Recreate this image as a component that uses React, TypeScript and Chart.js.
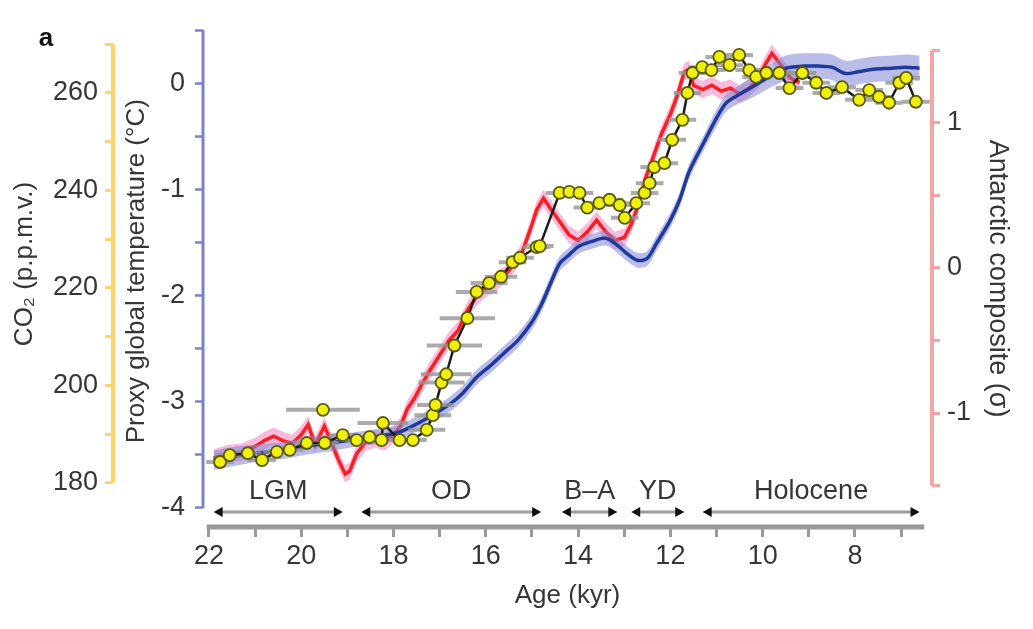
import { useEffect, useRef } from "react";
import { Chart, registerables } from "chart.js";

Chart.register(...registerables);

// ---------- Data ----------
// Proxy global temperature stack (°C)
const TEMP_AGE = [21.9, 21.4, 20.9, 20.4, 19.9, 19.4, 18.9, 18.4, 17.9, 17.5, 17.1, 16.8, 16.5, 16.2, 15.9, 15.6, 15.3, 15.0, 14.8, 14.6, 14.4, 14.2, 14.0, 13.7, 13.4, 13.2, 12.9, 12.7, 12.5, 12.3, 12.0, 11.8, 11.6, 11.3, 11.0, 10.8, 10.6, 10.4, 10.2, 9.8, 9.5, 9.1, 8.8, 8.5, 8.2, 7.9, 7.6, 7.2, 6.9, 6.6];
const TEMP_VAL = [-3.55, -3.51, -3.48, -3.46, -3.42, -3.39, -3.36, -3.33, -3.29, -3.21, -3.11, -3.03, -2.92, -2.77, -2.66, -2.54, -2.42, -2.25, -2.09, -1.89, -1.70, -1.62, -1.54, -1.49, -1.46, -1.51, -1.62, -1.67, -1.65, -1.51, -1.29, -1.10, -0.84, -0.58, -0.33, -0.19, -0.13, -0.08, -0.03, 0.075, 0.14, 0.16, 0.16, 0.15, 0.09, 0.11, 0.13, 0.14, 0.15, 0.14];
const TEMP_ERR = [0.09, 0.09, 0.08, 0.08, 0.08, 0.08, 0.07, 0.07, 0.07, 0.07, 0.07, 0.07, 0.07, 0.07, 0.07, 0.07, 0.07, 0.07, 0.07, 0.07, 0.07, 0.07, 0.07, 0.07, 0.07, 0.07, 0.07, 0.07, 0.07, 0.07, 0.07, 0.07, 0.07, 0.07, 0.08, 0.08, 0.08, 0.09, 0.1, 0.11, 0.12, 0.12, 0.12, 0.12, 0.12, 0.12, 0.12, 0.12, 0.12, 0.12];

// Antarctic temperature composite (σ)
const ANT_AGE = [21.9, 21.6, 21.3, 21.0, 20.8, 20.6, 20.4, 20.2, 20.0, 19.85, 19.7, 19.5, 19.35, 19.2, 19.05, 18.95, 18.8, 18.6, 18.4, 18.2, 18.0, 17.85, 17.7, 17.55, 17.4, 17.2, 17.0, 16.8, 16.6, 16.4, 16.2, 16.0, 15.8, 15.6, 15.4, 15.2, 15.0, 14.9, 14.75, 14.6, 14.4, 14.2, 14.0, 13.8, 13.6, 13.4, 13.2, 13.0, 12.85, 12.7, 12.55, 12.4, 12.2, 12.0, 11.85, 11.7, 11.6, 11.5, 11.3, 11.1, 10.9, 10.7, 10.5, 10.3, 10.1, 9.95, 9.8, 9.6, 9.4, 9.2];
const ANT_VAL = [-1.31, -1.28, -1.27, -1.23, -1.19, -1.16, -1.19, -1.21, -1.15, -1.08, -1.22, -1.09, -1.20, -1.32, -1.42, -1.40, -1.28, -1.20, -1.18, -1.20, -1.15, -1.09, -0.97, -0.90, -0.81, -0.70, -0.60, -0.50, -0.43, -0.29, -0.20, -0.14, -0.10, -0.05, 0.02, 0.12, 0.30, 0.40, 0.48, 0.41, 0.32, 0.23, 0.19, 0.25, 0.33, 0.25, 0.19, 0.21, 0.30, 0.43, 0.61, 0.74, 0.92, 1.06, 1.19, 1.35, 1.37, 1.26, 1.23, 1.26, 1.22, 1.24, 1.20, 1.24, 1.30, 1.40, 1.48, 1.40, 1.31, 1.28];
const ANT_ERR = 0.06;

// CO2, EPICA Dome C (p.p.m.v.) with age uncertainty (kyr)
const CO2_AGE = [21.76, 21.55, 21.16, 20.85, 20.53, 20.25, 19.88, 19.49, 19.10, 18.80, 18.52, 18.26, 18.23, 17.87, 17.58, 17.28, 17.15, 17.09, 16.96, 16.86, 16.68, 16.40, 16.20, 15.93, 15.67, 15.42, 15.26, 14.90, 14.83, 14.40, 14.19, 13.97, 13.80, 13.54, 13.32, 13.10, 12.99, 12.74, 12.56, 12.45, 12.35, 12.13, 11.96, 11.74, 11.63, 11.52, 11.31, 11.11, 10.94, 10.72, 10.51, 10.29, 10.14, 9.92, 9.64, 9.42, 9.14, 8.84, 8.62, 8.28, 7.91, 7.69, 7.48, 7.26, 7.04, 6.89, 6.68];
const CO2_PPM = [184.3, 185.7, 186.1, 184.7, 186.4, 186.8, 188.2, 188.2, 189.8, 188.8, 189.4, 188.8, 192.3, 188.8, 188.8, 190.9, 193.9, 196.0, 200.6, 202.3, 208.2, 213.8, 219.2, 221.0, 222.3, 225.3, 226.2, 228.4, 228.6, 239.5, 239.7, 239.5, 236.5, 237.4, 238.1, 237.0, 234.4, 237.4, 239.5, 241.5, 244.8, 245.6, 250.4, 254.5, 260.0, 264.1, 265.3, 264.7, 267.4, 265.7, 267.8, 264.7, 263.3, 264.1, 264.1, 261.0, 264.1, 262.1, 260.0, 261.2, 258.6, 260.6, 259.2, 258.0, 262.1, 263.1, 258.2];
const CO2_AGE_ERR = [0.3, 0.3, 0.3, 0.3, 0.3, 0.3, 0.3, 0.3, 0.3, 0.3, 0.3, 0.3, 0.55, 0.3, 0.3, 0.4, 0.4, 0.4, 0.5, 0.55, 0.6, 0.6, 0.45, 0.4, 0.35, 0.3, 0.3, 0.3, 0.3, 0.3, 0.3, 0.3, 0.3, 0.3, 0.3, 0.3, 0.3, 0.3, 0.3, 0.3, 0.3, 0.3, 0.3, 0.3, 0.3, 0.3, 0.3, 0.3, 0.3, 0.3, 0.3, 0.3, 0.3, 0.3, 0.3, 0.3, 0.3, 0.3, 0.3, 0.3, 0.3, 0.3, 0.3, 0.3, 0.3, 0.3, 0.3];
const CO2_OUT_AGE = [19.53];
const CO2_OUT_PPM = [195.0];
const CO2_OUT_ERR = [0.8];

// Climate periods (kyr)
const PERIOD_LABELS = ["LGM", "OD", "B\u2013A", "YD", "Holocene"];
const PERIOD_START = [21.9, 18.7, 14.35, 12.85, 11.3];
const PERIOD_END = [19.1, 14.8, 13.15, 11.7, 6.6];

// Axes
const X_TICKS = [22, 21, 20, 19, 18, 17, 16, 15, 14, 13, 12, 11, 10, 9, 8, 7];
const X_LINE = [22.05, 6.5];
const CO2_TICKS = [180, 190, 200, 210, 220, 230, 240, 250, 260, 270];
const TEMP_TICKS = [-4, -3.5, -3, -2.5, -2, -1.5, -1, -0.5, 0, 0.5];
const ANT_TICKS = [-1.5, -1, -0.5, 0, 0.5, 1, 1.5];

// ---------- Helpers ----------
const FONT = "'Liberation Sans', Arial, Helvetica, sans-serif";
const TXT = "#363636";
const YELLOW_AX = "#FFD46E";
const BLUE_AX = "#7C82C8";
const RED_AX = "#F6A3A3";
const TICK_SIZE = 27;
const TITLE_SIZE = 26;

const pts = (xs: number[], ys: number[]) => xs.map((x, i) => ({ x, y: ys[i] }));

const errBars = (ages: number[], vals: number[], errs: number[]) => {
  const out: { x: number; y: number | null }[] = [];
  ages.forEach((a, i) => {
    out.push({ x: a + errs[i], y: vals[i] }, { x: a - errs[i], y: vals[i] }, { x: a, y: null });
  });
  return out;
};

const decorPlugin = {
  id: "decor",
  afterDraw(chart: any) {
    const { ctx, chartArea, scales } = chart;
    const xs = scales.x;
    const yc = scales.yCO2;
    const yt = scales.yTemp;
    const ya = scales.yAnt;
    ctx.save();
    ctx.lineCap = "butt";
    const line = (x1: number, y1: number, x2: number, y2: number, color: string, w: number) => {
      ctx.beginPath();
      ctx.strokeStyle = color;
      ctx.lineWidth = w;
      ctx.moveTo(x1, y1);
      ctx.lineTo(x2, y2);
      ctx.stroke();
    };
    // y axis lines
    line(yc.right, yc.getPixelForValue(CO2_TICKS[0]), yc.right, yc.getPixelForValue(CO2_TICKS[CO2_TICKS.length - 1]), YELLOW_AX, 4);
    line(yt.right, yt.getPixelForValue(TEMP_TICKS[0]), yt.right, yt.getPixelForValue(TEMP_TICKS[TEMP_TICKS.length - 1]), BLUE_AX, 3);
    line(ya.left, ya.getPixelForValue(ANT_TICKS[0]), ya.left, ya.getPixelForValue(ANT_TICKS[ANT_TICKS.length - 1]), RED_AX, 4);
    // x axis line
    line(xs.getPixelForValue(X_LINE[0]), chartArea.bottom, xs.getPixelForValue(X_LINE[1]), chartArea.bottom, "#9a9a9a", 5);

    // period arrows
    const ay = chartArea.bottom - 15;
    const ly = chartArea.bottom - 35;
    ctx.font = `${TICK_SIZE}px ${FONT}`;
    ctx.textAlign = "center";
    ctx.textBaseline = "middle";
    PERIOD_LABELS.forEach((lab, i) => {
      const x1 = xs.getPixelForValue(PERIOD_START[i]);
      const x2 = xs.getPixelForValue(PERIOD_END[i]);
      line(x1 + 4, ay, x2 - 4, ay, "#9a9a9a", 3);
      ctx.fillStyle = "#111";
      ctx.beginPath();
      ctx.moveTo(x1, ay);
      ctx.lineTo(x1 + 9, ay - 5);
      ctx.lineTo(x1 + 9, ay + 5);
      ctx.closePath();
      ctx.fill();
      ctx.beginPath();
      ctx.moveTo(x2, ay);
      ctx.lineTo(x2 - 9, ay - 5);
      ctx.lineTo(x2 - 9, ay + 5);
      ctx.closePath();
      ctx.fill();
      ctx.fillStyle = TXT;
      ctx.fillText(lab, (x1 + x2) / 2, ly);
    });

    // panel letter
    ctx.fillStyle = "#111";
    ctx.font = `bold 26px ${FONT}`;
    ctx.fillText("a", 46, 39);
    ctx.restore();
  },
};

const setTicks = (vals: number[]) => (scale: any) => {
  scale.ticks = vals.map((v) => ({ value: v }));
};

export default function App() {
  const ref = useRef<HTMLCanvasElement>(null);

  useEffect(() => {
    if (!ref.current) return;
    const chart = new Chart(ref.current, {
      type: "line",
      data: {
        datasets: [
          {
            label: "CO2",
            data: pts(CO2_AGE, CO2_PPM),
            yAxisID: "yCO2",
            showLine: false,
            pointRadius: 6,
            pointBackgroundColor: "#f0f00a",
            pointBorderColor: "#5a5a0c",
            pointBorderWidth: 1.8,
            order: 0,
          },
          {
            label: "CO2 outlier",
            data: pts(CO2_OUT_AGE, CO2_OUT_PPM),
            yAxisID: "yCO2",
            showLine: false,
            pointRadius: 6,
            pointBackgroundColor: "#f0f00a",
            pointBorderColor: "#5a5a0c",
            pointBorderWidth: 1.8,
            order: 0,
          },
          {
            label: "CO2 line",
            data: pts(CO2_AGE, CO2_PPM),
            yAxisID: "yCO2",
            borderColor: "#1c1c1c",
            borderWidth: 2.5,
            pointRadius: 0,
            fill: false,
            order: 1,
          },
          {
            label: "CO2 age error",
            data: [...errBars(CO2_AGE, CO2_PPM, CO2_AGE_ERR), ...errBars(CO2_OUT_AGE, CO2_OUT_PPM, CO2_OUT_ERR)],
            yAxisID: "yCO2",
            borderColor: "rgba(150,150,150,0.8)",
            borderWidth: 4,
            pointRadius: 0,
            spanGaps: false,
            fill: false,
            order: 2,
          },
          {
            label: "Global temperature",
            data: pts(TEMP_AGE, TEMP_VAL),
            yAxisID: "yTemp",
            borderColor: "#1f3a9c",
            borderWidth: 3.5,
            pointRadius: 0,
            tension: 0.3,
            fill: false,
            order: 3,
          },
          {
            label: "Global temperature upper",
            data: pts(TEMP_AGE, TEMP_VAL.map((v, i) => v + TEMP_ERR[i])),
            yAxisID: "yTemp",
            borderWidth: 0,
            pointRadius: 0,
            tension: 0.3,
            backgroundColor: "rgba(130,135,212,0.55)",
            fill: "+1",
            order: 4,
          },
          {
            label: "Global temperature lower",
            data: pts(TEMP_AGE, TEMP_VAL.map((v, i) => v - TEMP_ERR[i])),
            yAxisID: "yTemp",
            borderWidth: 0,
            pointRadius: 0,
            tension: 0.3,
            fill: false,
            order: 4,
          },
          {
            label: "Antarctic composite",
            data: pts(ANT_AGE, ANT_VAL),
            yAxisID: "yAnt",
            borderColor: "#ff1e1e",
            borderWidth: 3.5,
            pointRadius: 0,
            fill: false,
            order: 5,
          },
          {
            label: "Antarctic upper",
            data: pts(ANT_AGE, ANT_VAL.map((v) => v + ANT_ERR)),
            yAxisID: "yAnt",
            borderWidth: 0,
            pointRadius: 0,
            backgroundColor: "rgba(242,120,190,0.5)",
            fill: "+1",
            order: 6,
          },
          {
            label: "Antarctic lower",
            data: pts(ANT_AGE, ANT_VAL.map((v) => v - ANT_ERR)),
            yAxisID: "yAnt",
            borderWidth: 0,
            pointRadius: 0,
            fill: false,
            order: 6,
          },
        ],
      },
      options: {
        responsive: false,
        animation: false,
        events: [],
        layout: { padding: { top: 30, left: 0, right: 0, bottom: 0 } },
        plugins: { legend: { display: false }, tooltip: { enabled: false } },
        scales: {
          x: {
            type: "linear",
            reverse: true,
            min: 6.33,
            max: 22.13,
            afterBuildTicks: setTicks(X_TICKS),
            afterFit: (s: any) => {
              s.height = 102;
            },
            border: { display: false },
            grid: { drawOnChartArea: false, drawTicks: true, tickLength: 10, tickColor: "#9a9a9a", tickWidth: 3 },
            ticks: {
              autoSkip: false,
              maxRotation: 0,
              padding: 3,
              color: TXT,
              font: { family: FONT, size: TICK_SIZE },
              callback: (v: any) => (Number(v) % 2 === 0 ? String(v) : ""),
            },
            title: {
              display: true,
              text: "Age (kyr)",
              color: TXT,
              font: { family: FONT, size: TITLE_SIZE },
              padding: { top: 0, bottom: 18 },
            },
          },
          yCO2: {
            type: "linear",
            position: "left",
            weight: 1,
            min: 170.97,
            max: 272.92,
            afterBuildTicks: setTicks(CO2_TICKS),
            afterFit: (s: any) => {
              s.width = 113;
            },
            border: { display: false },
            grid: { drawOnChartArea: false, drawTicks: true, tickLength: 8, tickColor: YELLOW_AX, tickWidth: 3 },
            ticks: {
              padding: 7,
              color: TXT,
              font: { family: FONT, size: TICK_SIZE },
              callback: (v: any) => (Number(v) % 20 === 0 ? String(v) : ""),
            },
            title: {
              display: true,
              text: "    CO\u2082 (p.p.m.v.)",
              color: TXT,
              font: { family: FONT, size: TITLE_SIZE },
              padding: { top: 9, bottom: 0 },
            },
          },
          yTemp: {
            type: "linear",
            position: "left",
            weight: 0,
            min: -4.18,
            max: 0.5,
            afterBuildTicks: setTicks(TEMP_TICKS),
            afterFit: (s: any) => {
              s.width = 90;
            },
            border: { display: false },
            grid: { drawOnChartArea: false, drawTicks: true, tickLength: 8, tickColor: BLUE_AX, tickWidth: 2.5 },
            ticks: {
              padding: 10,
              color: TXT,
              font: { family: FONT, size: TICK_SIZE },
              callback: (v: any) => (Number.isInteger(Number(v)) ? String(v) : ""),
            },
            title: {
              display: true,
              text: "  Proxy global temperature (\u00B0C)",
              color: TXT,
              font: { family: FONT, size: TITLE_SIZE },
              padding: { top: 8, bottom: 0 },
            },
          },
          yAnt: {
            type: "linear",
            position: "right",
            min: -1.786,
            max: 1.641,
            afterBuildTicks: setTicks(ANT_TICKS),
            afterFit: (s: any) => {
              s.width = 101;
            },
            border: { display: false },
            grid: { drawOnChartArea: false, drawTicks: true, tickLength: 8, tickColor: RED_AX, tickWidth: 3 },
            ticks: {
              padding: 7,
              color: TXT,
              font: { family: FONT, size: TICK_SIZE },
              callback: (v: any) => (Number.isInteger(Number(v)) ? String(v) : ""),
            },
            title: {
              display: true,
              text: "Antarctic composite (\u03C3)",
              color: TXT,
              font: { family: FONT, size: 27 },
              padding: { top: 19, bottom: 0 },
            },
          },
        },
      },
      plugins: [decorPlugin],
    } as any);
    return () => chart.destroy();
  }, []);

  return (
    <div style={{ position: "fixed", left: 0, top: 0, width: 1033, height: 629, background: "#fff" }}>
      <canvas ref={ref} width={1033} height={629} />
    </div>
  );
}
